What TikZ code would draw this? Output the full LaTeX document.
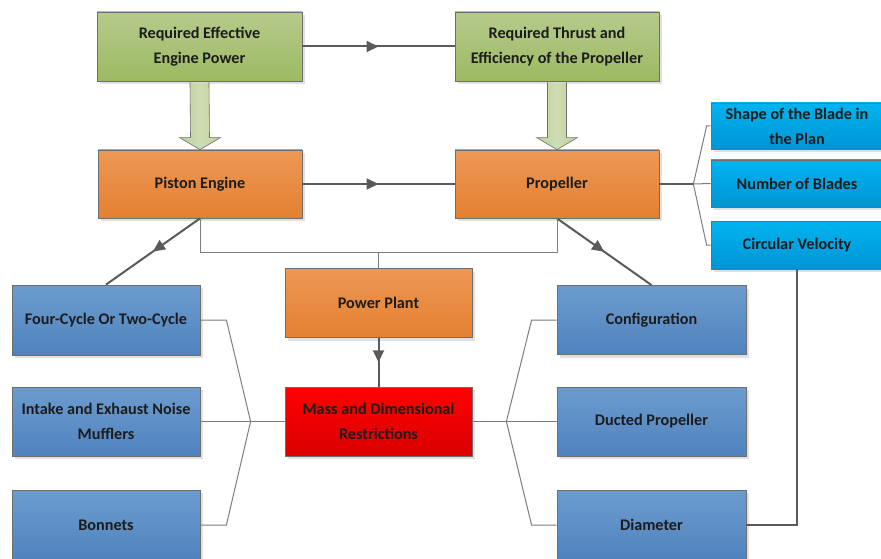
\documentclass[tikz,border=0pt]{standalone}
\usepackage{fontspec}
\setmainfont{Carlito}
\usetikzlibrary{arrows.meta,calc,shadows,decorations.markings}

\definecolor{greenT}{RGB}{182,202,140}
\definecolor{greenB}{RGB}{156,186,98}
\definecolor{orangeT}{RGB}{237,152,86}
\definecolor{orangeB}{RGB}{228,128,48}
\definecolor{blueT}{RGB}{108,156,206}
\definecolor{blueB}{RGB}{80,130,190}
\definecolor{cyanT}{RGB}{0,180,240}
\definecolor{cyanB}{RGB}{0,148,212}
\definecolor{redT}{RGB}{255,0,0}
\definecolor{redB}{RGB}{218,0,0}
\definecolor{rim}{RGB}{110,110,110}
\definecolor{wire}{RGB}{90,90,90}
\definecolor{thinwire}{RGB}{125,125,125}
\definecolor{txt}{RGB}{28,28,28}

\tikzset{
  box/.style={draw=rim, line width=.8pt, align=center, inner sep=0pt,
    text=txt, font=\fontsize{16.2}{25}\selectfont\bfseries,
    drop shadow={shadow xshift=3pt,shadow yshift=-3pt,fill=black!12,opacity=1}},
  greenbox/.style={box, top color=greenT, bottom color=greenB},
  orangebox/.style={box, top color=orangeT, bottom color=orangeB},
  bluebox/.style={box, top color=blueT, bottom color=blueB},
  cyanbox/.style={box, top color=cyanT, bottom color=cyanB},
  redbox/.style={box, top color=redT, bottom color=redB},
  thickline/.style={draw=wire, line width=2pt},
  thinline/.style={draw=thinwire, line width=1pt},
  midarrow/.style={postaction={decorate,decoration={markings,
    mark=at position .5 with {\arrow[wire]{Triangle[length=12pt,width=11pt]}}}}},
  fatarrow/.style={draw=rim, line width=.6pt, left color=greenT!90, right color=greenT!90, middle color=greenT!65}
}

\begin{document}
\begin{tikzpicture}[x=1pt,y=-1pt]
\clip (0,0) rectangle (881,559);

%%%%%%%%%%%%%%%%%%%%%%%%%%%%%%%%%%%%%%%%%%%%%%%%	REQUISITOS (verde)
\node[greenbox, minimum width=205, minimum height=69] (g1) at (199.5,46.5)
  {Required Effective\\Engine Power};
\node[greenbox, minimum width=204, minimum height=69] (g2) at (557,46.5)
  {Required Thrust and\\Efficiency of the Propeller};

%%%%%%%%%%%%%%%%%%%%%%%%%%%%%%%%%%%%%%%%%%%%%%%%	MOTOR Y HELICE (naranja)
\node[orangebox, minimum width=204, minimum height=68] (pe) at (200,184) {Piston Engine};
\node[orangebox, minimum width=204, minimum height=68] (pr) at (557,184) {Propeller};
\node[orangebox, minimum width=187, minimum height=69] (pp) at (378.5,303) {Power Plant};
\node[redbox, minimum width=187, minimum height=69] (ms) at (378.5,421.5)
  {Mass and Dimensional\\Restrictions};

%%%%%%%%%%%%%%%%%%%%%%%%%%%%%%%%%%%%%%%%%%%%%%%%	PALA (cyan)
\node[cyanbox, minimum width=172, minimum height=46] (sh) at (797,126)
  {Shape of the Blade in\\the Plan};
\node[cyanbox, minimum width=172, minimum height=47] (nb) at (797,183.5) {Number of Blades};
\node[cyanbox, minimum width=172, minimum height=48] (cv) at (797,245) {Circular Velocity};

%%%%%%%%%%%%%%%%%%%%%%%%%%%%%%%%%%%%%%%%%%%%%%%%	MOTOR (azul, izquierda)
\node[bluebox, minimum width=188, minimum height=70] (fc) at (106,320) {Four-Cycle Or Two-Cycle};
\node[bluebox, minimum width=188, minimum height=69] (ie) at (106,421.5)
  {Intake and Exhaust Noise\\Mufflers};
\node[bluebox, minimum width=188, minimum height=70] (bo) at (106,525) {Bonnets};

%%%%%%%%%%%%%%%%%%%%%%%%%%%%%%%%%%%%%%%%%%%%%%%%	HELICE (azul, derecha)
\node[bluebox, minimum width=189, minimum height=69] (cf) at (651.5,320) {Configuration};
\node[bluebox, minimum width=189, minimum height=69] (dp) at (651.5,421.5) {Ducted Propeller};
\node[bluebox, minimum width=189, minimum height=70] (di) at (651.5,525) {Diameter};

%%%%%%%%%%%%%%%%%%%%%%%%%%%%%%%%%%%%%%%%%%%%%%%%	FLECHAS GORDAS
\foreach \a/\b in {g1/pe,g2/pr}{
  \draw[fatarrow] ($(\a.south)+(-9.5,1)$) -- ($(\b.north)+(-9.5,-12)$)
    -- ($(\b.north)+(-20.5,-12)$) -- (\b.north) -- ($(\b.north)+(20.5,-12)$)
    -- ($(\b.north)+(9.5,-12)$) -- ($(\a.south)+(9.5,1)$);
}

%%%%%%%%%%%%%%%%%%%%%%%%%%%%%%%%%%%%%%%%%%%%%%%%	FLECHAS
\draw[thickline, midarrow] (g1.east) -- (g2.west);
\draw[thickline, midarrow] (pe.east) -- (pr.west);
\draw[thickline, midarrow] (pe.south) -- (fc.north);
\draw[thickline, midarrow] (pr.south) -- (cf.north);
\draw[thickline, midarrow] (pp.south) -- (ms.north);

%%%%%%%%%%%%%%%%%%%%%%%%%%%%%%%%%%%%%%%%%%%%%%%%	PLANTA DE POTENCIA
\coordinate (bus) at ($(pe.south)+(0,34)$);
\draw[thinline] (pe.south) -- (bus) -| (pr.south);
\draw[thinline] (bus -| pp.north) -- (pp.north);

%%%%%%%%%%%%%%%%%%%%%%%%%%%%%%%%%%%%%%%%%%%%%%%%	LLAVE DERECHA (helice)
\coordinate (pj) at ($(pr.east)+(34,0)$);
\draw[thickline] (pr.east) -- (pj);
\draw[thinline] (pj) -- (nb.west);
\draw[thinline] (pj) -- ($(sh.west)+(-4,0)$) -- (sh.west);
\draw[thinline] (pj) -- ($(cv.west)+(-4,0)$) -- (cv.west);
\draw[thickline] (cv.south) |- (di.east);

%%%%%%%%%%%%%%%%%%%%%%%%%%%%%%%%%%%%%%%%%%%%%%%%	LLAVES DE RESTRICCIONES
\coordinate (lj) at ($(ms.west)+(-34,0)$);
\draw[thinline] (ms.west) -- (lj) -- (ie.east);
\draw[thinline] (lj) -- ($(fc.east)+(26,0)$) -- (fc.east);
\draw[thinline] (lj) -- ($(bo.east)+(26,0)$) -- (bo.east);

\coordinate (rj) at ($(ms.east)+(34,0)$);
\draw[thinline] (ms.east) -- (rj) -- (dp.west);
\draw[thinline] (rj) -- ($(cf.west)+(-25,0)$) -- (cf.west);
\draw[thinline] (rj) -- ($(di.west)+(-25,0)$) -- (di.west);

\end{tikzpicture}
\end{document}
